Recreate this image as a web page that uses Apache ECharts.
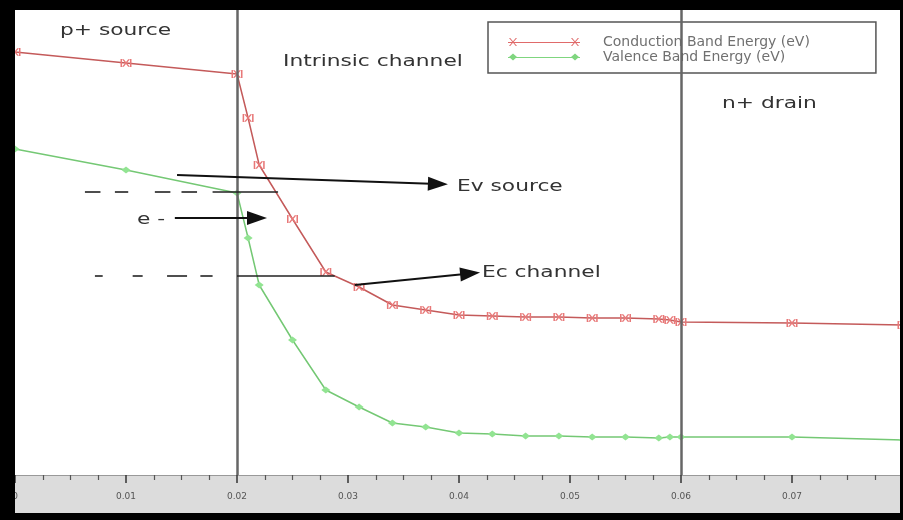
<!DOCTYPE html>
<html>
<head>
<meta charset="utf-8">
<script src="https://cdn.jsdelivr.net/npm/echarts@6/dist/echarts.min.js"></script>
<style>
html,body{margin:0;padding:0;background:#000;}
#chart{width:903px;height:520px;}
</style>
</head>
<body>
<div id="chart"></div>
<script>
// ---- data ----
const xPositions = [0, 0.01, 0.02, 0.021, 0.022, 0.025, 0.028, 0.031, 0.034, 0.037, 0.040, 0.043, 0.046, 0.049, 0.052, 0.055, 0.058, 0.059, 0.060, 0.070, 0.080];
const conductionBand = [1.73, 1.62, 1.51, 1.07, 0.60, 0.06, -0.47, -0.62, -0.80, -0.85, -0.90, -0.91, -0.92, -0.92, -0.93, -0.93, -0.94, -0.95, -0.97, -0.98, -1.00];
const valenceBand = [0.76, 0.55, 0.32, -0.13, -0.60, -1.15, -1.65, -1.82, -1.98, -2.02, -2.08, -2.09, -2.11, -2.11, -2.12, -2.12, -2.13, -2.12, -2.12, -2.12, -2.15];
const seriesNames = ['Conduction Band Energy (eV)', 'Valence Band Energy (eV)'];
const regionBoundaries = [0.02, 0.06];
const xTicks = { min: 0, max: 0.08, interval: 0.01 };
// annotation arrows: [x1, y1, x2, y2]
const arrowLines = [
  [0.0146, 0.50, 0.0381, 0.41],
  [0.0144, 0.07, 0.0218, 0.07],
  [0.0306, -0.60, 0.0410, -0.485]
];
// dashed guide segments: [x1, x2, y]
const guideSegments = [
  [0.0063, 0.0077, 0.33], [0.0090, 0.0102, 0.33], [0.0126, 0.0140, 0.33], [0.0150, 0.0164, 0.33], [0.0178, 0.0237, 0.33],
  [0.0072, 0.0079, -0.51], [0.0106, 0.0115, -0.51], [0.0137, 0.0155, -0.51], [0.0167, 0.0178, -0.51], [0.0200, 0.0288, -0.51]
];
const annotations = [
  { text: 'p+ source', x: 60, y: 31 },
  { text: 'Intrinsic channel', x: 283, y: 62 },
  { text: 'n+ drain', x: 722, y: 104 },
  { text: 'Ev source', x: 457, y: 187 },
  { text: 'e -', x: 137, y: 220 },
  { text: 'Ec channel', x: 482, y: 273 }
];

// ---- build ----
const toPairs = (ys) => xPositions.map((x, i) => [x, ys[i]]);
const FONT = 'DejaVu Sans';

const crossSymbol = 'path://M0,0H1.4V10H0Z M8.6,0H10V10H8.6Z M1.4,0.3L3,0.3L5,3.6L7,0.3L8.6,0.3L5.8,5L8.6,9.7L7,9.7L5,6.4L3,9.7L1.4,9.7L4.2,5Z';
const redIcon = 'path://M0,4.4H72V5.6H0Z M1,0.5L2.2,0.5L5,3.8L7.8,0.5L9,0.5L5.6,4.5L9,8.5L7.8,8.5L5,5.2L2.2,8.5L1,8.5L4.4,4.5Z M63,0.5L64.2,0.5L67,3.8L69.8,0.5L71,0.5L67.6,4.5L71,8.5L69.8,8.5L67,5.2L64.2,8.5L63,8.5L66.4,4.5Z';
const greenIcon = 'path://M0,4.4H72V5.6H0Z M1,4.5L5,1L9,4.5L5,8Z M63,4.5L67,1L71,4.5L67,8Z';

const markData = [];
regionBoundaries.forEach(b => markData.push({
  xAxis: b, symbol: 'none',
  lineStyle: { color: '#666', width: 2.5, type: 'solid' }
}));
guideSegments.forEach(s => markData.push([
  { coord: [s[0], s[2]], symbol: 'none', lineStyle: { color: '#222', width: 1.6, type: 'solid' } },
  { coord: [s[1], s[2]], symbol: 'none' }
]));
arrowLines.forEach(a => markData.push([
  { coord: [a[0], a[1]], symbol: 'none', lineStyle: { color: '#111', width: 1.8, type: 'solid' } },
  { coord: [a[2], a[3]], symbol: 'triangle', symbolSize: [14, 20] }
]));

const chart = echarts.init(document.getElementById('chart'), null, { renderer: 'canvas' });
chart.setOption({
  animation: false,
  backgroundColor: '#ffffff',
  grid: { left: 15, right: 0, top: 10, bottom: 45, containLabel: false, outerBoundsMode: 'none' },
  xAxis: {
    type: 'value', min: xTicks.min, max: xTicks.max, interval: xTicks.interval,
    axisLine: { show: true, onZero: false, lineStyle: { color: '#999', width: 1 } },
    axisTick: { show: true, inside: false, length: 8, lineStyle: { color: '#333', width: 1.5 } },
    minorTick: { show: true, splitNumber: 4, length: 5, lineStyle: { color: '#555', width: 1.2 } },
    axisLabel: {
      margin: 17, fontSize: 9, color: '#555', fontFamily: FONT, showMaxLabel: false,
      formatter: v => (v === 0 ? '0' : v.toFixed(2))
    },
    splitLine: { show: false }
  },
  yAxis: { type: 'value', min: -2.5, max: 2.15, show: false, splitLine: { show: false } },
  legend: {
    orient: 'vertical', left: 488, top: 22,
    padding: [13, 66, 9, 20], itemGap: 1,
    itemWidth: 72, itemHeight: 9,
    backgroundColor: '#fff', borderColor: '#555', borderWidth: 1.5, borderRadius: 0,
    textStyle: { fontFamily: FONT, fontSize: 14, color: '#707070', lineHeight: 13, padding: [0, 0, 0, 18] },
    data: [
      { name: seriesNames[0], icon: redIcon, itemStyle: { color: '#e06a6a' } },
      { name: seriesNames[1], icon: greenIcon, itemStyle: { color: '#7fd67f' } }
    ]
  },
  series: [
    {
      name: seriesNames[0], type: 'line', data: toPairs(conductionBand),
      symbol: crossSymbol, symbolSize: [11, 8], showAllSymbol: true,
      itemStyle: { color: '#e87878' },
      lineStyle: { color: '#c45a5a', width: 1.5 },
      markLine: {
        silent: true, animation: false, symbol: ['none', 'none'],
        label: { show: false }, emphasis: { disabled: true },
        data: markData
      },
      z: 3
    },
    {
      name: seriesNames[1], type: 'line', data: toPairs(valenceBand),
      symbol: 'diamond', symbolSize: [9, 7], showAllSymbol: true,
      itemStyle: { color: '#92e492' },
      lineStyle: { color: '#74c874', width: 1.5 },
      z: 3
    }
  ],
  graphic: [
    { type: 'rect', z: -5, shape: { x: 15, y: 475, width: 888, height: 38 }, style: { fill: '#dcdcdc' } },
    ...annotations.map(a => ({
      type: 'text', x: a.x, y: a.y, scaleX: 1.45, z: 50,
      style: { text: a.text, fontFamily: FONT, fontSize: 15, fill: '#333', verticalAlign: 'middle', align: 'left' }
    })),
    { type: 'rect', z: 100, shape: { x: 0, y: 0, width: 903, height: 10 }, style: { fill: '#000' } },
    { type: 'rect', z: 100, shape: { x: 0, y: 0, width: 15, height: 520 }, style: { fill: '#000' } },
    { type: 'rect', z: 100, shape: { x: 0, y: 513, width: 903, height: 7 }, style: { fill: '#000' } },
    { type: 'rect', z: 100, shape: { x: 900, y: 0, width: 3, height: 520 }, style: { fill: '#000' } }
  ]
});
</script>
</body>
</html>
